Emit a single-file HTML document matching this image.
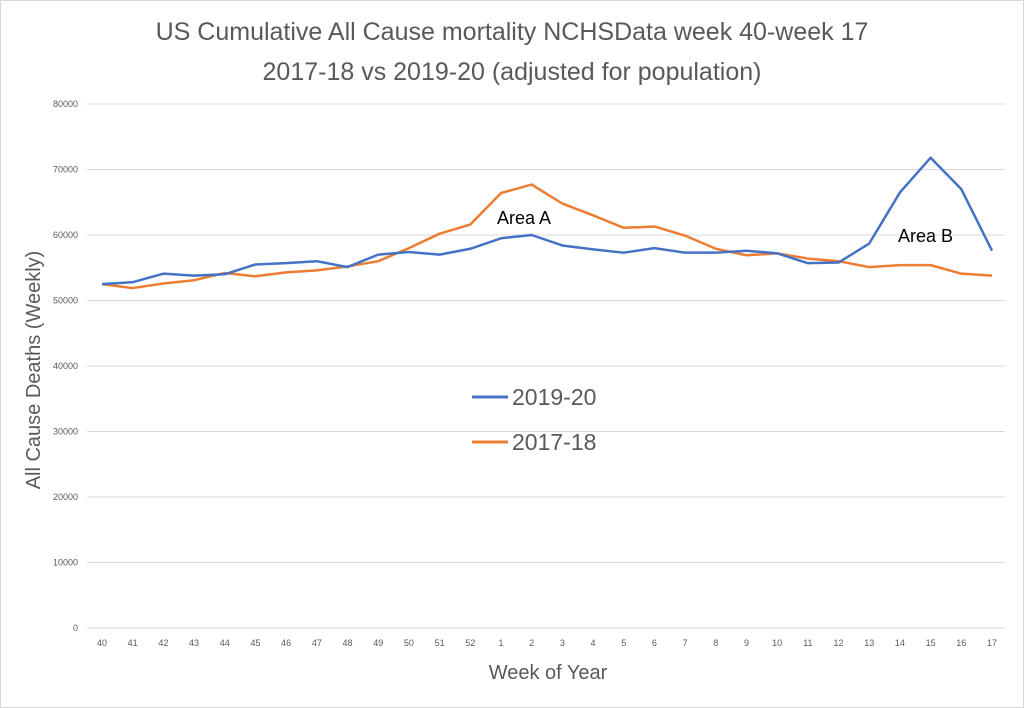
<!DOCTYPE html>
<html><head><meta charset="utf-8"><style>
body{margin:0;background:#fff;}
svg{display:block;font-family:"Liberation Sans",sans-serif;}
</style></head><body>
<svg id="chart" width="1024" height="708" viewBox="0 0 1024 708">
<rect x="0.5" y="0.5" width="1023" height="707" fill="#fff" stroke="#d9d9d9"/>
<text x="512" y="40" text-anchor="middle" font-size="25" fill="#595959">US Cumulative All Cause mortality NCHSData week 40-week 17</text>
<text x="512" y="80" text-anchor="middle" font-size="25" fill="#595959">2017-18 vs 2019-20 (adjusted for population)</text>
<text transform="translate(40,370) rotate(-90)" text-anchor="middle" font-size="20" fill="#595959">All Cause Deaths (Weekly)</text>
<text x="548" y="679" text-anchor="middle" font-size="20" fill="#595959">Week of Year</text>
<g id="grid"></g><g id="xt"></g><g id="lines"></g>
<line x1="472" y1="397" x2="508" y2="397" stroke="#4472c4" stroke-width="3"/>
<text x="512" y="405" font-size="23" fill="#595959">2019-20</text>
<line x1="472" y1="442" x2="508" y2="442" stroke="#ed7d31" stroke-width="3"/>
<text x="512" y="450" font-size="23" fill="#595959">2017-18</text>
<text x="497" y="224" font-size="18" fill="#000">Area A</text>
<text x="898" y="242" font-size="18" fill="#000">Area B</text>
</svg>
<script>
const weeks=["40","41","42","43","44","45","46","47","48","49","50","51","52","1","2","3","4","5","6","7","8","9","10","11","12","13","14","15","16","17"];
const s2019=[52500,52800,54100,53800,54000,55500,55700,56000,55100,57000,57400,57000,57900,59500,60000,58400,57800,57300,58000,57300,57300,57600,57200,55700,55800,58700,66500,71800,67000,57600];
const s2017=[52500,51900,52600,53100,54200,53700,54300,54600,55200,56000,58000,60200,61600,66400,67700,64800,63000,61100,61300,59900,57900,56900,57200,56400,56000,55100,55400,55400,54100,53800];
const yTicks=[0,10000,20000,30000,40000,50000,60000,70000,80000];
const NS="http://www.w3.org/2000/svg";
const x0=102,x1=992,yb=628,yt=104,yMax=80000;
const X=i=>x0+i*(x1-x0)/(weeks.length-1);
const Y=v=>yb-v/yMax*(yb-yt);
function mk(t,a,p){const e=document.createElementNS(NS,t);for(const k in a)e.setAttribute(k,a[k]);p.appendChild(e);return e;}
const g=document.getElementById('grid');
yTicks.forEach(v=>{
 const l=mk('line',{x1:87,x2:1005,y1:Y(v),y2:Y(v),stroke:'#d9d9d9','stroke-width':1},g);
 
 
 const t=mk('text',{x:78,y:Y(v)+3,'text-anchor':'end','font-size':9,fill:'#595959'},g);
 t.textContent=v;
 
 
});
const xt=document.getElementById('xt');
weeks.forEach((w,i)=>{
 const t=mk('text',{x:X(i),y:646,'text-anchor':'middle','font-size':9,fill:'#595959'},xt);
 t.textContent=w;
 
 
});
const lg=document.getElementById('lines');
[[s2017,'#ed7d31','line-2017-18'],[s2019,'#4472c4','line-2019-20']].forEach(([s,c,n])=>{
 const p=mk('polyline',{points:s.map((v,i)=>X(i)+','+Y(v)).join(' '),fill:'none',stroke:c,'stroke-width':2.5,'stroke-linejoin':'round'},lg);
 
 
});
</script>
</body></html>
